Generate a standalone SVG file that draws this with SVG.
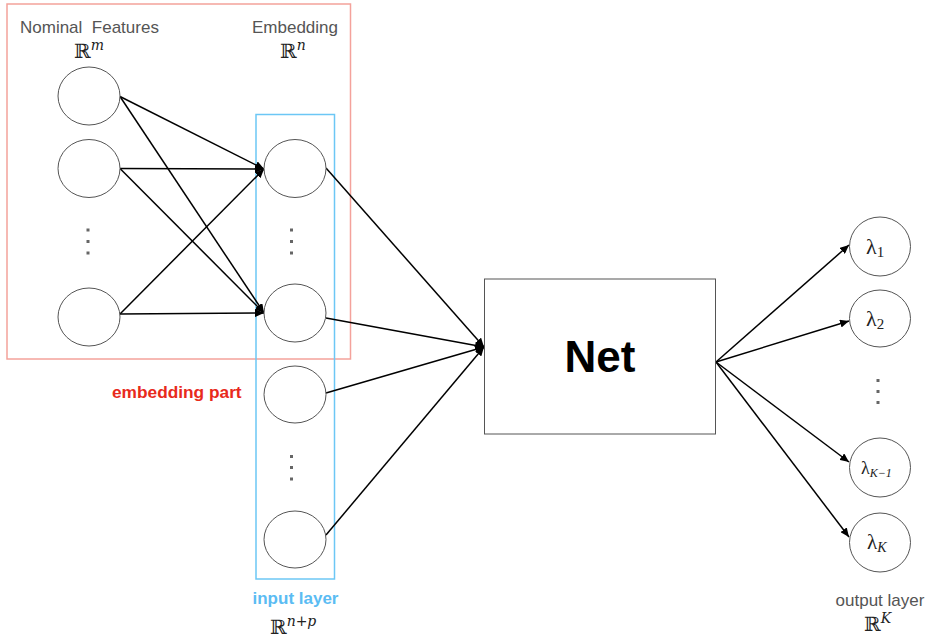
<svg xmlns="http://www.w3.org/2000/svg" width="928" height="643" viewBox="0 0 928 643">
<defs>
<style>
.node{fill:#fff;stroke:#555;stroke-width:1}
.edge{stroke:#000;stroke-width:1.5;fill:none;marker-end:url(#ah)}
.lbl{font-family:"Liberation Sans",Arial,sans-serif;fill:#555;font-size:17px}
.math{font-family:"DejaVu Serif","Liberation Serif",serif;fill:#222}
.lam{font-family:"Liberation Serif","DejaVu Serif",serif;fill:#222}
.dot{fill:#666}
</style>
<marker id="ah" markerWidth="10" markerHeight="8" refX="9" refY="4" orient="auto" markerUnits="userSpaceOnUse">
<path d="M0,0 L9,4 L0,8 Z" fill="#000"/>
</marker>
</defs>
<rect width="928" height="643" fill="#fff"/>

<g id="embedding-region">
<rect x="7" y="4" width="343.5" height="355" fill="none" stroke="#f4a29b" stroke-width="1.5"/>
<text x="112" y="398" font-family="'Liberation Sans',Arial,sans-serif" font-weight="bold" font-size="17.3" fill="#e82a1c">embedding part</text>
</g>
<g id="input-layer-region">
<rect x="256" y="114.5" width="78.5" height="464.5" fill="none" stroke="#6cc7f5" stroke-width="1.5"/>
<text x="295.5" y="604" text-anchor="middle" font-family="'Liberation Sans',Arial,sans-serif" font-weight="bold" font-size="17" fill="#5bbcf3">input layer</text>
<text x="270" y="634" class="math" font-size="20">ℝ<tspan font-size="14" font-style="italic" dy="-8">n+p</tspan></text>
</g>

<g id="titles">
<text x="20" y="33" class="lbl" style="white-space:pre">Nominal  Features</text>
<text x="74" y="58" class="math" font-size="20">ℝ<tspan font-size="14" font-style="italic" dy="-8">m</tspan></text>
<text x="295" y="33" class="lbl" text-anchor="middle">Embedding</text>
<text x="280" y="58" class="math" font-size="20">ℝ<tspan font-size="14" font-style="italic" dy="-8">n</tspan></text>
<text x="880" y="606" class="lbl" text-anchor="middle">output layer</text>
<text x="864" y="631" class="math" font-size="20">ℝ<tspan font-size="14" font-style="italic" dy="-8">K</tspan></text>
</g>

<g id="connectors">
<line class="edge" x1="120" y1="96.5" x2="264" y2="169"/>
<line class="edge" x1="120" y1="96.5" x2="264" y2="313"/>
<line class="edge" x1="120" y1="168.5" x2="264" y2="169"/>
<line class="edge" x1="120" y1="168.5" x2="264" y2="313"/>
<line class="edge" x1="120" y1="314" x2="264" y2="169"/>
<line class="edge" x1="120" y1="314" x2="264" y2="313"/>
<line class="edge" x1="326" y1="168" x2="484" y2="347"/>
<line class="edge" x1="326" y1="318" x2="484" y2="347"/>
<line class="edge" x1="326" y1="393" x2="484" y2="347"/>
<line class="edge" x1="326" y1="535" x2="484" y2="347"/>
<line class="edge" x1="716" y1="362" x2="849" y2="245"/>
<line class="edge" x1="716" y1="362" x2="849" y2="321"/>
<line class="edge" x1="716" y1="362" x2="849" y2="462"/>
<line class="edge" x1="716" y1="362" x2="849" y2="537"/>
</g>

<g id="nominal-1"><ellipse class="node" cx="89" cy="96" rx="31" ry="29"/></g>
<g id="nominal-2"><ellipse class="node" cx="89" cy="168.5" rx="31" ry="29"/></g>
<g id="nominal-dots"><rect class="dot" x="86.5" y="228.5" width="3" height="3"/><rect class="dot" x="86.5" y="240" width="3" height="3"/><rect class="dot" x="86.5" y="251.5" width="3" height="3"/></g>
<g id="nominal-3"><ellipse class="node" cx="89" cy="317" rx="31" ry="29"/></g>

<g id="embed-1"><ellipse class="node" cx="295" cy="168.5" rx="31" ry="29"/></g>
<g id="embed-dots"><rect class="dot" x="290" y="228.5" width="3" height="3"/><rect class="dot" x="290" y="240" width="3" height="3"/><rect class="dot" x="290" y="251.5" width="3" height="3"/></g>
<g id="embed-2"><ellipse class="node" cx="295" cy="313" rx="31" ry="29"/></g>
<g id="input-3"><ellipse class="node" cx="295" cy="394.5" rx="31" ry="28.5"/></g>
<g id="input-dots"><rect class="dot" x="290" y="455" width="3" height="3"/><rect class="dot" x="290" y="466" width="3" height="3"/><rect class="dot" x="290" y="477.5" width="3" height="3"/></g>
<g id="input-4"><ellipse class="node" cx="295" cy="539.5" rx="31" ry="28.5"/></g>

<g id="net">
<rect x="484.5" y="279" width="231" height="155" fill="#fff" stroke="#555" stroke-width="1"/>
<text x="600" y="372" text-anchor="middle" font-family="'Liberation Sans',Arial,sans-serif" font-weight="bold" font-size="44" fill="#000">Net</text>
</g>

<g id="out-1"><ellipse class="node" cx="880" cy="246.5" rx="30.5" ry="29.5"/>
<text x="866" y="254" class="lam" font-size="22">λ<tspan font-size="15" dy="3">1</tspan></text></g>
<g id="out-2"><ellipse class="node" cx="880" cy="318.5" rx="30.5" ry="28.5"/>
<text x="866" y="326" class="lam" font-size="22">λ<tspan font-size="15" dy="3">2</tspan></text></g>
<g id="out-dots"><rect class="dot" x="876.5" y="379" width="3" height="3"/><rect class="dot" x="876.5" y="390" width="3" height="3"/><rect class="dot" x="876.5" y="401" width="3" height="3"/></g>
<g id="out-3"><ellipse class="node" cx="880" cy="467.5" rx="30.5" ry="29.5"/>
<text x="861" y="474" class="lam" font-size="18">λ<tspan font-size="12" font-style="italic" dy="3">K−1</tspan></text></g>
<g id="out-4"><ellipse class="node" cx="880" cy="542.5" rx="30.5" ry="29.5"/>
<text x="867" y="549" class="lam" font-size="21">λ<tspan font-size="14" font-style="italic" dy="3">K</tspan></text></g>
</svg>
